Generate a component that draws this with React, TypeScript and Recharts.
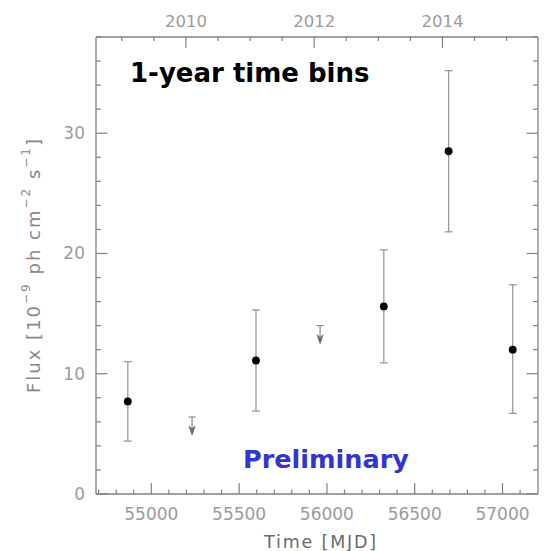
import { ComposedChart, Scatter, XAxis, YAxis, ErrorBar } from 'recharts';

// one-year bins, centre of each bin in MJD
const detMjd = [54866, 55596, 56324, 56693, 57058];
const detFlux = [7.7, 11.1, 15.6, 28.5, 12.0];
const detLow = [4.4, 6.9, 10.9, 21.8, 6.7];
const detHigh = [11.0, 15.3, 20.3, 35.2, 17.4];

// bins without a detection: 95% upper limits
const ulMjd = [55232, 55961];
const ulFlux = [6.4, 14.0];

const mjdLabels = [55000, 55500, 56000, 56500, 57000];
const yearLabels = [2010, 2012, 2014];
const fluxLabels = [0, 10, 20, 30];

const X_DOMAIN: [number, number] = [54685, 57202];
const Y_DOMAIN: [number, number] = [0, 38];

const frame = '#808080';
const tickText = '#9b9b9b';
const font = 'DejaVu Sans';

const yearToMjd = (yr: number) => 51544.5 + (yr - 2000) * 365.25;

const mjdTicks: number[] = [];
for (let m = 54700; m <= 57100; m += 100) mjdTicks.push(m);
const yearTicks: number[] = [];
for (let yr = 2009; yr <= 2015; yr += 0.5) yearTicks.push(yearToMjd(yr));
const fluxTicks: number[] = [];
for (let f = 0; f <= 38; f += 2) fluxTicks.push(f);

const detections = detMjd.map((mjd, i) => ({
  mjd,
  flux: detFlux[i],
  err: [detFlux[i] - detLow[i], detHigh[i] - detFlux[i]],
}));
const limits = ulMjd.map((mjd, i) => ({ mjd, flux: ulFlux[i] }));

// plot frame edges in pixels
const LEFT = 96;
const TOP = 37;
const RIGHT = 538;
const BOTTOM = 494;

function BottomTick({ x, payload }: any) {
  const major = mjdLabels.includes(payload.value);
  const y = BOTTOM;
  return (
    <g>
      <line x1={x} x2={x} y1={y} y2={y - (major ? 11 : 4.5)} stroke={frame} strokeWidth={1.2} />
      {major && (
        <text x={x} y={y + 25.5} textAnchor="middle" fontFamily={font} fontSize={17} fill={tickText}>
          {payload.value}
        </text>
      )}
    </g>
  );
}

function TopTick({ x, payload }: any) {
  const label = yearLabels.find((yr) => Math.abs(yearToMjd(yr) - payload.value) < 1);
  const y = TOP;
  return (
    <g>
      <line x1={x} x2={x} y1={y} y2={y + (label ? 11 : 4)} stroke={frame} strokeWidth={1.2} />
      {label && (
        <text x={x} y={y - 10.5} textAnchor="middle" fontFamily={font} fontSize={16.5} fill={tickText}>
          {label}
        </text>
      )}
    </g>
  );
}

function LeftTick({ y, payload }: any) {
  const major = fluxLabels.includes(payload.value);
  const x = LEFT;
  return (
    <g>
      <line x1={x} x2={x + (major ? 11.5 : 5)} y1={y} y2={y} stroke={frame} strokeWidth={1.2} />
      {major && (
        <text x={x - 11} y={y + 6} textAnchor="end" fontFamily={font} fontSize={17} fill={tickText}>
          {payload.value}
        </text>
      )}
    </g>
  );
}

function RightTick({ y, payload }: any) {
  const major = fluxLabels.includes(payload.value);
  const x = RIGHT;
  return <line x1={x} x2={x - (major ? 11.5 : 5)} y1={y} y2={y} stroke={frame} strokeWidth={1.2} />;
}

function Dot({ cx, cy }: any) {
  return <circle cx={cx} cy={cy} r={3.9} fill="#000" />;
}

// upper limit: cap at the limit, short stem and a down arrow
function LimitArrow({ cx, cy }: any) {
  return (
    <g stroke="#8a8a8a" strokeWidth={1.2}>
      <line x1={cx - 3.5} x2={cx + 3.5} y1={cy} y2={cy} />
      <line x1={cx} x2={cx} y1={cy} y2={cy + 14} />
      <path
        d={`M${cx} ${cy + 18} L${cx - 3} ${cy + 9} L${cx} ${cy + 12} L${cx + 3} ${cy + 9} Z`}
        fill="#6a6a6a"
        stroke="#6a6a6a"
        strokeWidth={0.8}
      />
    </g>
  );
}

export default function App() {
  return (
    <div style={{ position: 'absolute', left: 0, top: 0, width: 552, height: 551, background: '#fff' }}>
      <ComposedChart
        width={552}
        height={551}
        margin={{ top: TOP - 1, left: LEFT - 1, right: 552 - RIGHT - 1, bottom: 551 - BOTTOM - 1 }}
      >
        <XAxis
          xAxisId="mjd"
          dataKey="mjd"
          type="number"
          domain={X_DOMAIN}
          allowDataOverflow
          ticks={mjdTicks}
          interval={0}
          height={1}
          tickSize={0}
          tickMargin={0}
          tickLine={false}
          tick={<BottomTick />}
          axisLine={{ stroke: frame, strokeWidth: 1.3 }}
        />
        <XAxis
          xAxisId="yr"
          dataKey="mjd"
          type="number"
          orientation="top"
          domain={X_DOMAIN}
          allowDataOverflow
          ticks={yearTicks}
          interval={0}
          height={1}
          tickSize={0}
          tickMargin={0}
          tickLine={false}
          tick={<TopTick />}
          axisLine={{ stroke: frame, strokeWidth: 1.3 }}
        />
        <YAxis
          yAxisId="flux"
          dataKey="flux"
          type="number"
          domain={Y_DOMAIN}
          allowDataOverflow
          ticks={fluxTicks}
          interval={0}
          width={1}
          tickSize={0}
          tickMargin={0}
          tickLine={false}
          tick={<LeftTick />}
          axisLine={{ stroke: frame, strokeWidth: 1.3 }}
        />
        <YAxis
          yAxisId="fluxR"
          dataKey="flux"
          type="number"
          orientation="right"
          domain={Y_DOMAIN}
          allowDataOverflow
          ticks={fluxTicks}
          interval={0}
          width={1}
          tickSize={0}
          tickMargin={0}
          tickLine={false}
          tick={<RightTick />}
          axisLine={{ stroke: frame, strokeWidth: 1.3 }}
        />
        <Scatter
          data={detections}
          xAxisId="mjd"
          yAxisId="flux"
          dataKey="flux"
          shape={<Dot />}
          isAnimationActive={false}
        >
          <ErrorBar dataKey="err" direction="y" width={4} stroke="#9a9a9a" strokeWidth={1.3} />
        </Scatter>
        <Scatter
          data={limits}
          xAxisId="yr"
          yAxisId="fluxR"
          dataKey="flux"
          shape={<LimitArrow />}
          isAnimationActive={false}
        />
      </ComposedChart>
      <svg
        width={552}
        height={551}
        style={{ position: 'absolute', left: 0, top: 0, pointerEvents: 'none' }}
      >
        <text
          x={33}
          y={265}
          transform="rotate(-90 33 265)"
          textAnchor="middle"
          dominantBaseline="central"
          fontFamily={font}
          fontSize={18}
          letterSpacing={2}
          fill="#888"
        >
          Flux [10
          <tspan dy={-7} fontSize={12}>−9</tspan>
          <tspan dy={7}> ph cm</tspan>
          <tspan dy={-7} fontSize={12}>−2</tspan>
          <tspan dy={7}> s</tspan>
          <tspan dy={-7} fontSize={12}>−1</tspan>
          <tspan dy={7}>]</tspan>
        </text>
        <text
          x={321}
          y={548}
          textAnchor="middle"
          fontFamily={font}
          fontSize={17.5}
          letterSpacing={1.8}
          fill="#6a6a6a"
        >
          Time [MJD]
        </text>
        <text x={130} y={82} fontFamily={font} fontWeight="bold" fontSize={26} fill="#000">
          1-year time bins
        </text>
        <text x={243} y={468} fontFamily={font} fontWeight="bold" fontSize={25.5} fill="#3434d2">
          Preliminary
        </text>
      </svg>
    </div>
  );
}
